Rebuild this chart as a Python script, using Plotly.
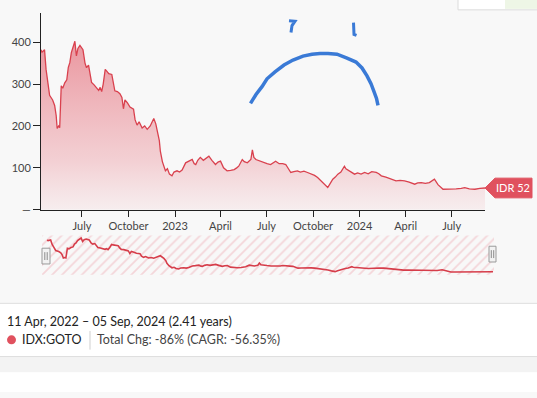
import pandas as pd
import plotly.graph_objects as go

# ---------------- data ----------------
dates = [
    "2022-04-11", "2022-04-13", "2022-04-18", "2022-04-19", "2022-04-21", "2022-04-25", "2022-04-28",
    "2022-05-04", "2022-05-08", "2022-05-11", "2022-05-13", "2022-05-16", "2022-05-18", "2022-05-21",
    "2022-05-24", "2022-05-28", "2022-06-01", "2022-06-04", "2022-06-07", "2022-06-10", "2022-06-14",
    "2022-06-17", "2022-06-20", "2022-06-23", "2022-06-27", "2022-07-03", "2022-07-07", "2022-07-10",
    "2022-07-14", "2022-07-17", "2022-07-20", "2022-07-25", "2022-07-30", "2022-08-03", "2022-08-06",
    "2022-08-09", "2022-08-12", "2022-08-16", "2022-08-19", "2022-08-23", "2022-08-29", "2022-09-01",
    "2022-09-04", "2022-09-09", "2022-09-14", "2022-09-18", "2022-09-21", "2022-09-24", "2022-09-29",
    "2022-10-04", "2022-10-11", "2022-10-14", "2022-10-18", "2022-10-22", "2022-10-28", "2022-11-02",
    "2022-11-07", "2022-11-13", "2022-11-17", "2022-11-20", "2022-11-24", "2022-11-27", "2022-12-01",
    "2022-12-03", "2022-12-07", "2022-12-13", "2022-12-17", "2022-12-21", "2022-12-26", "2022-12-30",
    "2023-01-05", "2023-01-10", "2023-01-15", "2023-01-22", "2023-01-28", "2023-02-04", "2023-02-08",
    "2023-02-11", "2023-02-15", "2023-02-20", "2023-02-26", "2023-03-03", "2023-03-09", "2023-03-15",
    "2023-03-22", "2023-03-27", "2023-04-01", "2023-04-07", "2023-04-14", "2023-04-21", "2023-04-28",
    "2023-05-03", "2023-05-07", "2023-05-14", "2023-05-18", "2023-05-24", "2023-05-31", "2023-06-03",
    "2023-06-06", "2023-06-10", "2023-06-18", "2023-06-26", "2023-07-02", "2023-07-09", "2023-07-14",
    "2023-07-19", "2023-07-26", "2023-08-02", "2023-08-08", "2023-08-14", "2023-08-18", "2023-08-24",
    "2023-08-31", "2023-09-06", "2023-09-13", "2023-09-20", "2023-09-28", "2023-10-04", "2023-10-10",
    "2023-10-16", "2023-10-23", "2023-10-30", "2023-11-04", "2023-11-09", "2023-11-14", "2023-11-19",
    "2023-11-25", "2023-12-02", "2023-12-05", "2023-12-08", "2023-12-14", "2023-12-22", "2023-12-28",
    "2024-01-04", "2024-01-11", "2024-01-18", "2024-01-25", "2024-02-03", "2024-02-08", "2024-02-13",
    "2024-02-22", "2024-03-03", "2024-03-08", "2024-03-13", "2024-03-21", "2024-03-30", "2024-04-08",
    "2024-04-19", "2024-04-25", "2024-05-02", "2024-05-10", "2024-05-18", "2024-05-28", "2024-06-04",
    "2024-06-14", "2024-06-22", "2024-06-30", "2024-07-10", "2024-07-20", "2024-07-27", "2024-08-05",
    "2024-08-16", "2024-08-26", "2024-09-05",
]
prices = [
    382, 376, 382, 360, 335, 300, 273,
    262, 249, 225, 194, 200, 196, 296,
    290, 303, 310, 340, 351, 375, 390,
    402, 367, 385, 392, 382, 350, 339,
    345, 327, 304, 298, 292, 285, 292,
    282, 300, 335, 331, 325, 323, 300,
    284, 282, 277, 268, 241, 262, 255,
    245, 240, 215, 202, 210, 195, 200,
    192, 200, 212, 218, 205, 190, 165,
    140, 115, 93, 98, 85, 81, 90,
    93, 90, 95, 112, 115, 120, 110,
    108, 118, 125, 118, 122, 128, 118,
    108, 114, 116, 100, 93, 94, 96,
    100, 104, 120, 115, 112, 120, 143,
    125, 120, 116, 112, 110, 108, 112,
    116, 110, 110, 108, 95, 89, 91,
    93, 90, 92, 89, 85, 82, 77,
    70, 61, 53, 63, 73, 78, 85,
    90, 104, 98, 96, 92, 85, 88,
    85, 89, 86, 91, 89, 86, 81,
    78, 73, 70, 69, 70, 69, 66,
    61, 64, 65, 63, 65, 73, 60,
    49, 49, 49, 50, 51, 53, 50,
    49, 51, 52,
]
x_tick_vals = ["2022-07-01", "2022-10-01", "2023-01-01", "2023-04-01", "2023-07-01",
               "2023-10-01", "2024-01-01", "2024-04-01", "2024-07-01"]
x_tick_text = ["July", "October", "2023", "April", "July", "October", "2024", "April", "July"]
y_tick_vals = [0, 100, 200, 300, 400]
y_tick_text = ["—", "100", "200", "300", "400"]

ticker = "IDX:GOTO"
period_text = "11 Apr, 2022 – 05 Sep, 2024 (2.41 years)"
change_text = "Total Chg: -86% (CAGR: -56.35%)"
currency = "IDR"

# ---------------- styling ----------------
W, H = 537, 398
FONT = "Lato"
RED = "#d9414e"
LABEL_RED = "#e0515e"
BLUE = "#3a7ad6"


def px(x, y):
    return x / W, 1 - y / H


def pxx(x):
    return x / W


def pxy(y):
    return 1 - y / H


fig = go.Figure()

# main area series
fig.add_trace(go.Scatter(
    x=dates, y=prices, mode="lines",
    line=dict(color=RED, width=1.3),
    fill="tozeroy",
    fillgradient=dict(
        type="vertical", start=0, stop=400,
        colorscale=[[0, "rgba(232,120,132,0.07)"],
                    [0.3, "rgba(230,105,118,0.28)"],
                    [1, "rgba(224,80,95,0.58)"]],
    ),
    xaxis="x", yaxis="y", hoverinfo="skip", showlegend=False,
))

# navigator hatched background (bar spanning the navigator range)
d0 = pd.Timestamp(dates[0]) - pd.Timedelta(days=10)
d1 = pd.Timestamp(dates[-1]) + pd.Timedelta(days=2)
mid = d0 + (d1 - d0) / 2
span_ms = (d1 - d0).total_seconds() * 1000
fig.add_trace(go.Bar(
    x=[mid], y=[440], width=[span_ms], base=0,
    marker=dict(color="rgba(0,0,0,0)", line=dict(width=0),
                pattern=dict(shape="/", fgcolor="#f0b3bb", bgcolor="rgba(0,0,0,0)",
                             size=7, solidity=0.25)),
    xaxis="x2", yaxis="y2", hoverinfo="skip", showlegend=False,
))
# navigator line
fig.add_trace(go.Scatter(
    x=dates, y=prices, mode="lines",
    line=dict(color="#d63d4a", width=1.6),
    xaxis="x2", yaxis="y2", hoverinfo="skip", showlegend=False,
))

fig.update_layout(
    width=W, height=H,
    margin=dict(l=0, r=0, t=0, b=0),
    paper_bgcolor="#f8f8f8",
    plot_bgcolor="rgba(0,0,0,0)",
    font=dict(family=FONT, size=11, color="#444"),
    showlegend=False,
    hovermode=False,
    bargap=0,
    xaxis=dict(
        domain=[pxx(41), pxx(485)], anchor="y", type="date",
        range=[dates[0], dates[-1]],
        showline=True, linecolor="#222", linewidth=1,
        ticks="outside", ticklen=6, tickcolor="#222", tickwidth=1,
        tickvals=x_tick_vals, ticktext=x_tick_text,
        tickfont=dict(family=FONT, size=11, color="#444"),
        showgrid=False, zeroline=False, fixedrange=True,
    ),
    yaxis=dict(
        domain=[pxy(213), pxy(13)], anchor="x",
        range=[0, 470],
        showline=True, linecolor="#222", linewidth=1,
        ticks="outside", ticklen=7, tickcolor="#222", tickwidth=1,
        tickvals=y_tick_vals, ticktext=y_tick_text,
        tickfont=dict(family=FONT, size=11, color="#444"),
        showgrid=False, zeroline=False, fixedrange=True,
    ),
    xaxis2=dict(
        domain=[pxx(42), pxx(494)], anchor="y2", type="date",
        range=[d0, d1], visible=False, fixedrange=True,
    ),
    yaxis2=dict(
        domain=[pxy(279), pxy(239)], anchor="x2",
        range=[20, 430], visible=False, fixedrange=True,
    ),
)

shapes = []

# bottom info band
shapes.append(dict(type="rect", xref="paper", yref="paper",
                   x0=0, x1=1, y0=pxy(362), y1=pxy(308),
                   fillcolor="#ffffff", line=dict(width=0), layer="below"))
shapes.append(dict(type="line", xref="paper", yref="paper",
                   x0=0, x1=1, y0=pxy(308), y1=pxy(308),
                   line=dict(color="#dedede", width=1)))
shapes.append(dict(type="line", xref="paper", yref="paper",
                   x0=0, x1=1, y0=pxy(362), y1=pxy(362),
                   line=dict(color="#dedede", width=1)))
shapes.append(dict(type="rect", xref="paper", yref="paper",
                   x0=0, x1=1, y0=pxy(378), y1=pxy(362),
                   fillcolor="#f3f3f3", line=dict(width=0), layer="below"))
shapes.append(dict(type="rect", xref="paper", yref="paper",
                   x0=0, x1=1, y0=0, y1=pxy(378),
                   fillcolor="#ffffff", line=dict(width=0), layer="below"))
# separator in legend line
shapes.append(dict(type="line", xref="paper", yref="paper",
                   x0=pxx(90), x1=pxx(90), y0=pxy(355), y1=pxy(336),
                   line=dict(color="#cfcfcf", width=1)))
# legend dot
shapes.append(dict(type="circle", xref="paper", yref="paper",
                   x0=pxx(7), x1=pxx(16), y0=pxy(349.5), y1=pxy(340.5),
                   fillcolor=LABEL_RED, line=dict(width=0)))

# top-right partial box
shapes.append(dict(type="rect", xref="paper", yref="paper",
                   x0=pxx(458), x1=pxx(540), y0=pxy(10), y1=pxy(-5),
                   fillcolor="#ffffff", line=dict(color="#dcdcdc", width=1)))
shapes.append(dict(type="rect", xref="paper", yref="paper",
                   x0=pxx(505), x1=pxx(537), y0=pxy(9), y1=pxy(0),
                   fillcolor="#eef6e6", line=dict(width=0)))

# navigator handles
for (hx0, hx1, hy0, hy1) in [(42, 50, 252, 268), (489, 496, 250, 266)]:
    shapes.append(dict(type="rect", xref="paper", yref="paper",
                       x0=pxx(hx0), x1=pxx(hx1), y0=pxy(hy1), y1=pxy(hy0),
                       fillcolor="#f2f2f2", line=dict(color="#9a9a9a", width=1)))
    cx = (hx0 + hx1) / 2
    for dx in (-1.2, 1.2):
        shapes.append(dict(type="line", xref="paper", yref="paper",
                           x0=pxx(cx + dx), x1=pxx(cx + dx),
                           y0=pxy(hy1 - 4), y1=pxy(hy0 + 4),
                           line=dict(color="#8a8a8a", width=1)))

# last price label (tied to last data value)
last = prices[-1]
h = 10 / (213 - 13) * 470  # half label height in data units
path = (f"M {pxx(485)},{last} L {pxx(495)},{last + h} L {pxx(532)},{last + h} "
        f"L {pxx(532)},{last - h} L {pxx(495)},{last - h} Z")
shapes.append(dict(type="path", xref="paper", yref="y", path=path,
                   fillcolor=LABEL_RED, line=dict(color=LABEL_RED, width=1)))


# hand-drawn blue doodle
def poly(points):
    s = ""
    for i, (x, y) in enumerate(points):
        X, Y = px(x, y)
        s += ("M " if i == 0 else " L ") + f"{X},{Y}"
    return s


arc = [(250.5, 105), (256, 96), (262, 88), (267, 80), (275, 73), (284, 66), (293, 61),
       (303, 57), (312, 55), (320, 54.3), (328, 54.3), (337, 55), (347, 59), (356, 63),
       (362, 69), (367, 77), (371, 85), (374, 93), (376.5, 100), (378, 107)]
shapes.append(dict(type="path", xref="paper", yref="paper", path=poly(arc),
                   line=dict(color=BLUE, width=3.5)))
shapes.append(dict(type="path", xref="paper", yref="paper",
                   path=poly([(289, 21), (295, 21.5), (292, 26), (291, 33)]),
                   line=dict(color=BLUE, width=3)))
shapes.append(dict(type="path", xref="paper", yref="paper",
                   path=poly([(353.5, 23), (353.8, 30), (354, 35), (356.5, 36)]),
                   line=dict(color=BLUE, width=3)))

fig.update_layout(shapes=shapes)

annotations = [
    dict(x=pxx(513), y=last, xref="paper", yref="y", text=f"{currency} {last}",
         showarrow=False, xanchor="center", yanchor="middle",
         font=dict(family=FONT, size=11, color="#ffffff")),
    dict(x=pxx(5), y=pxy(326), xref="paper", yref="paper", text=period_text,
         showarrow=False, xanchor="left", yanchor="middle",
         font=dict(family=FONT, size=12.5, color="#222")),
    dict(x=pxx(20), y=pxy(345), xref="paper", yref="paper", text=ticker,
         showarrow=False, xanchor="left", yanchor="middle",
         font=dict(family=FONT, size=12.5, color="#222")),
    dict(x=pxx(95), y=pxy(345), xref="paper", yref="paper", text=change_text,
         showarrow=False, xanchor="left", yanchor="middle",
         font=dict(family=FONT, size=12.5, color="#444")),
]
fig.update_layout(annotations=annotations)

fig.write_html("out.html", config={"displayModeBar": False},
               post_script="document.body.style.margin='0';")
